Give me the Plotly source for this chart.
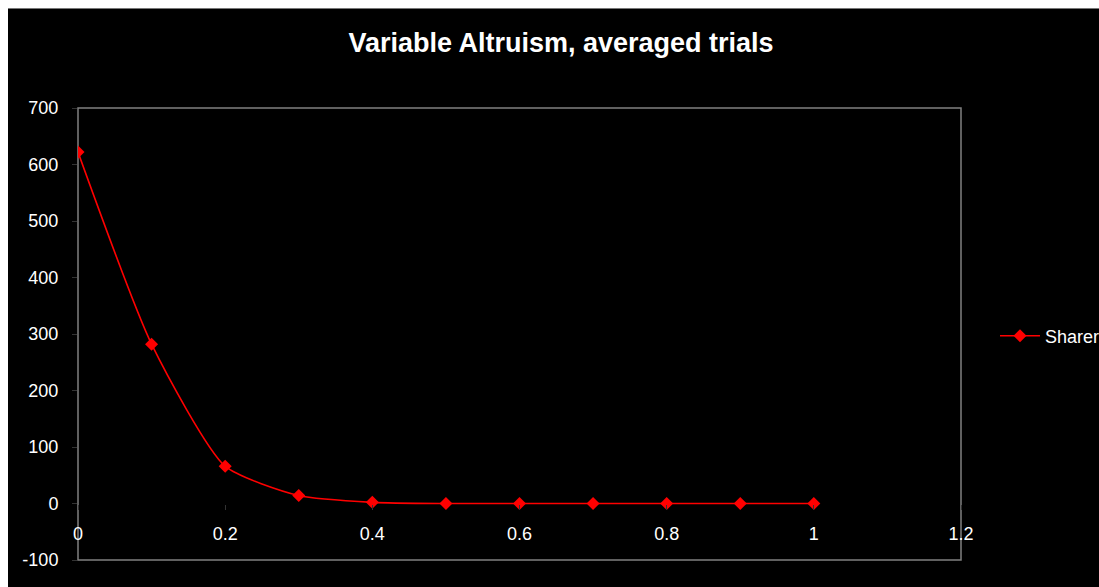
import plotly.graph_objects as go

# ---- data ----
altruism = [0.0, 0.1, 0.2, 0.3, 0.4, 0.5, 0.6, 0.7, 0.8, 0.9, 1.0]
sharer = [622, 282, 66, 14, 2, 0, 0, 0, 0, 0, 0]
x_ticks = [0, 0.2, 0.4, 0.6, 0.8, 1, 1.2]
x_tick_text = ["0", "0.2", "0.4", "0.6", "0.8", "1", "1.2"]
y_ticks = [-100, 0, 100, 200, 300, 400, 500, 600, 700]
y_tick_text = ["-100", "0", "100", "200", "300", "400", "500", "600", "700"]
title_text = "Variable Altruism, averaged trials"
series_name = "Sharer"

W, H = 1099, 587
L, R, T, B = 78, 961, 108, 560
pw, ph = R - L, B - T


def px_x(p):
    return (p - L) / pw


def px_y(p):
    return (B - p) / ph


FONT = "Liberation Sans, Arial, sans-serif"

fig = go.Figure()
fig.add_trace(go.Scatter(
    x=altruism, y=sharer, name=series_name,
    mode="lines+markers",
    line=dict(color="#ff0000", width=1.6, shape="spline", smoothing=0.6),
    marker=dict(symbol="diamond", size=10, color="#ff0000"),
))

y_zero_frac = (0 - y_ticks[0]) / (y_ticks[-1] - y_ticks[0])

fig.update_layout(
    width=W, height=H,
    margin=dict(l=L, r=W - R, t=T, b=H - B, pad=0, autoexpand=False),
    paper_bgcolor="white",
    plot_bgcolor="rgba(0,0,0,0)",
    font=dict(family=FONT, color="white", size=18),
    title=dict(text="<b>" + title_text + "</b>", x=561 / W, xref="container",
               xanchor="center", y=1 - 43 / H, yanchor="middle",
               font=dict(size=27, color="white", family=FONT)),
    xaxis=dict(range=[0, 1.2], tickvals=x_ticks, ticktext=x_tick_text,
               anchor="free", position=y_zero_frac,
               showline=False, showgrid=False, zeroline=False,
               ticks="outside", ticklen=5, tickcolor="#333333",
               ticklabelstandoff=9,
               tickfont=dict(size=18, color="white", family=FONT)),
    yaxis=dict(range=[-100, 700], tickvals=y_ticks, ticktext=y_tick_text,
               showline=False, showgrid=False, zeroline=False,
               ticks="outside", ticklen=5, tickcolor="#333333",
               ticklabelstandoff=10,
               tickfont=dict(size=18, color="white", family=FONT)),
    showlegend=True,
    legend=dict(x=px_x(995), y=px_y(336), xanchor="left", yanchor="middle",
                bgcolor="rgba(0,0,0,0)", font=dict(size=18, color="white", family=FONT),
                itemwidth=40),
    shapes=[
        dict(type="rect", xref="paper", yref="paper",
             x0=px_x(8), x1=px_x(W + 20), y0=px_y(H + 20), y1=px_y(8),
             fillcolor="black", line=dict(width=0), layer="below"),
        dict(type="line", xref="paper", yref="paper",
             x0=px_x(8), x1=px_x(W + 20), y0=px_y(8.5), y1=px_y(8.5),
             line=dict(color="#777777", width=1), layer="below"),
        dict(type="rect", xref="paper", yref="paper",
             x0=0, x1=1, y0=0, y1=1,
             line=dict(color="#808080", width=1.5), layer="below"),
    ],
)

fig.write_html("out.html")
